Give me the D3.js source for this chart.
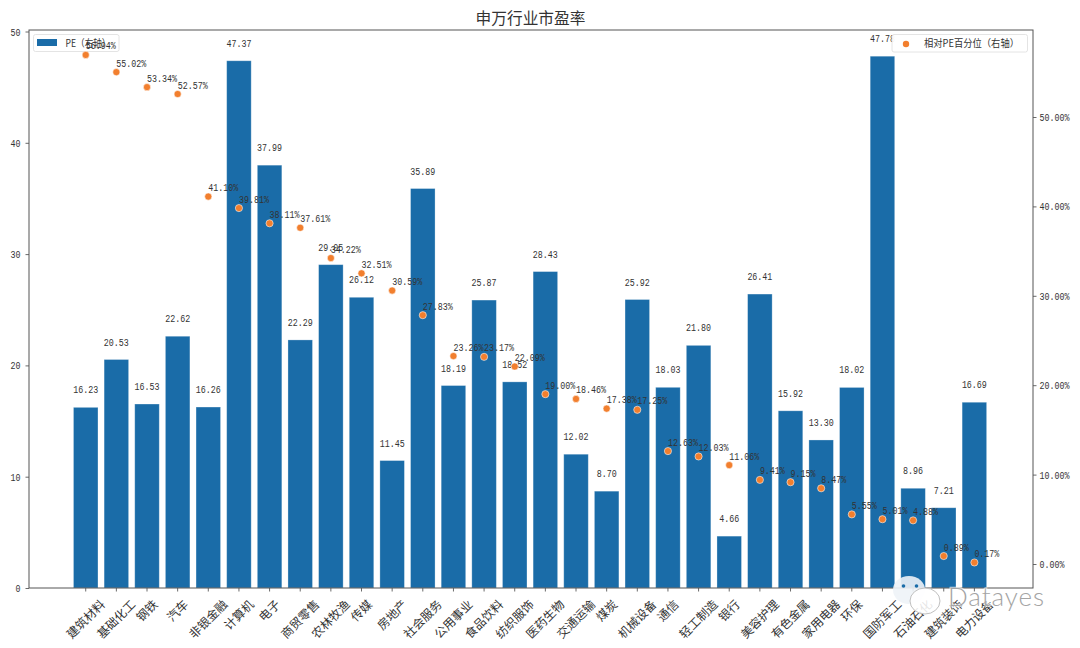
<!DOCTYPE html>
<html><head><meta charset="utf-8">
<script src="https://cdn.jsdelivr.net/npm/d3@7"></script>
<style>
html,body{margin:0;padding:0;background:#fff}
svg{display:block}
text{font-family:"Liberation Mono","Noto Sans CJK SC",monospace;fill:#333}
.cjk{font-family:"Noto Sans CJK SC",sans-serif}
</style></head><body><svg id="c" width="1080" height="648"></svg>
<script>
const categories=["建筑材料","基础化工","钢铁","汽车","非银金融","计算机","电子","商贸零售","农林牧渔","传媒","房地产","社会服务","公用事业","食品饮料","纺织服饰","医药生物","交通运输","煤炭","机械设备","通信","轻工制造","银行","美容护理","有色金属","家用电器","环保","国防军工","石油石化","建筑装饰","电力设备"];
const peValues=[16.23,20.53,16.53,22.62,16.26,47.37,37.99,22.29,29.05,26.12,11.45,35.89,18.19,25.87,18.52,28.43,12.02,8.70,25.92,18.03,21.80,4.66,26.41,15.92,13.30,18.02,47.78,8.96,7.21,16.69];
const pctValues=[56.94,55.02,53.34,52.57,41.10,39.81,38.11,37.61,34.22,32.51,30.59,27.83,23.26,23.17,22.09,19.00,18.46,17.38,17.25,12.63,12.03,11.06,9.41,9.15,8.47,5.55,5.01,4.88,0.89,0.17];
const leftTicks=[0,10,20,30,40,50];
const rightTicks=[0,10,20,30,40,50];
const title="申万行业市盈率", barLegend="PE（右轴）", dotLegend="相对PE百分位（右轴）", watermark="Datayes";
const BLUE="#1a6ca8", ORANGE="#f27f2e";
const L=29,R=1033,T=30,B=588;
const CH=5; // narrow half-width digit advance
const svg=d3.select("#c");
const x=d3.scaleBand().domain(categories).range([70.4,989.7]).paddingInner(0.2).paddingOuter(0.1);
const y=d3.scaleLinear().domain([0,50]).range([B,31.5]);
const y2=d3.scaleLinear().domain([0,50]).range([564,117]);
const cx=d=>x(d)+x.bandwidth()/2;
const narrow=(s,fs)=>s.attr("font-size",fs).attr("lengthAdjust","spacingAndGlyphs")
  .attr("textLength",function(){return this.textContent.length*CH;});

svg.append("g").selectAll("rect").data(categories).join("rect")
 .attr("x",d=>x(d)).attr("width",x.bandwidth())
 .attr("y",(d,i)=>y(peValues[i])).attr("height",(d,i)=>B-y(peValues[i]))
 .attr("fill",BLUE).attr("stroke","#fff").attr("stroke-opacity",.35).attr("stroke-width",.8);
svg.append("g").selectAll("text").data(categories).join("text")
 .attr("x",cx).attr("y",(d,i)=>y(peValues[i])-14).attr("text-anchor","middle")
 .text((d,i)=>peValues[i].toFixed(2)).call(narrow,11);

// left legend sits under the twin-axis marks
const lg1=svg.append("g");
lg1.append("rect").attr("x",33.5).attr("y",34.5).attr("width",85.5).attr("height",17).attr("rx",2)
 .attr("fill","#fff").attr("fill-opacity",.85).attr("stroke","#ddd").attr("stroke-width",.8);
lg1.append("rect").attr("x",37).attr("y",39).attr("width",20).attr("height",7).attr("fill",BLUE);
lg1.append("text").attr("class","cjk").attr("x",65.5).attr("y",46.5).attr("font-size",10)
 .attr("textLength",45).attr("lengthAdjust","spacingAndGlyphs").text(barLegend);

svg.append("g").selectAll("circle").data(categories).join("circle")
 .attr("cx",cx).attr("cy",(d,i)=>y2(pctValues[i])).attr("r",3.6)
 .attr("fill",ORANGE).attr("stroke","#fff").attr("stroke-opacity",.7).attr("stroke-width",.8);
svg.append("g").selectAll("text").data(categories).join("text")
 .attr("x",cx).attr("y",(d,i)=>y2(pctValues[i])-5.5).attr("text-anchor","start")
 .text((d,i)=>pctValues[i].toFixed(2)+"%").call(narrow,11);

const left=svg.append("g").attr("transform",`translate(${L},0)`)
 .call(d3.axisLeft(y).tickValues(leftTicks).tickSize(3.5).tickPadding(5));
const right=svg.append("g").attr("transform",`translate(${R},0)`)
 .call(d3.axisRight(y2).tickValues(rightTicks).tickSize(3.5).tickPadding(3).tickFormat(d=>d.toFixed(2)+"%"));
const bottom=svg.append("g").attr("transform",`translate(0,${B})`)
 .call(d3.axisBottom(x).tickSize(3.5));
[left,right,bottom].forEach(g=>{g.select(".domain").remove();g.selectAll("line").attr("stroke","#444").attr("stroke-width",.8);});
left.selectAll("text").attr("fill","#333").call(narrow,11);
right.selectAll("text").attr("fill","#333").call(narrow,11);
const FS=12;
bottom.selectAll("text").attr("class","cjk").attr("font-size",FS).attr("fill","#222").attr("text-anchor","middle")
 .attr("y",0).attr("dy","0.35em")
 .attr("transform",function(){const n=this.textContent.length;return `translate(0,${10+(n+1)*FS*0.707/2}) rotate(-45)`;});
svg.append("rect").attr("x",L).attr("y",T).attr("width",R-L).attr("height",B-T)
 .attr("fill","none").attr("stroke","#555").attr("stroke-width",1);
svg.append("text").attr("class","cjk").attr("x",530.5).attr("y",24).attr("text-anchor","middle")
 .attr("font-size",15.7).attr("fill","#111").text(title);

const lg2=svg.append("g");
lg2.append("rect").attr("x",892).attr("y",34.5).attr("width",135.5).attr("height",17.5).attr("rx",2)
 .attr("fill","#fff").attr("fill-opacity",.95).attr("stroke","#ddd").attr("stroke-width",.8);
lg2.append("circle").attr("cx",906).attr("cy",44).attr("r",3.2).attr("fill",ORANGE);
lg2.append("text").attr("class","cjk").attr("x",924).attr("y",47).attr("font-size",10)
 .attr("textLength",95).attr("lengthAdjust","spacingAndGlyphs").text(dotLegend);

// watermark
const wm=svg.append("g");
wm.append("ellipse").attr("cx",909).attr("cy",590).attr("rx",16).attr("ry",14)
 .attr("fill","#eef3f7").attr("fill-opacity",.9);
wm.selectAll("circle.eye").data([903.5,916.5]).join("circle").attr("class","eye")
 .attr("cx",d=>d).attr("cy",586).attr("r",1.8).attr("fill",BLUE);
wm.append("ellipse").attr("cx",925).attr("cy",601).attr("rx",15).attr("ry",13)
 .attr("fill","#fff").attr("fill-opacity",.88).attr("stroke","#c0c0c0").attr("stroke-width",1);
wm.append("text").attr("x",948).attr("y",606).attr("font-size",26)
 .style("font-family","Lato,'Open Sans',sans-serif").style("font-weight",300)
 .style("fill","#a4a4a4").style("stroke","#fff").style("stroke-width",2.5).style("stroke-opacity",.6)
 .style("paint-order","stroke").attr("textLength",96).text(watermark);
</script></body></html>
